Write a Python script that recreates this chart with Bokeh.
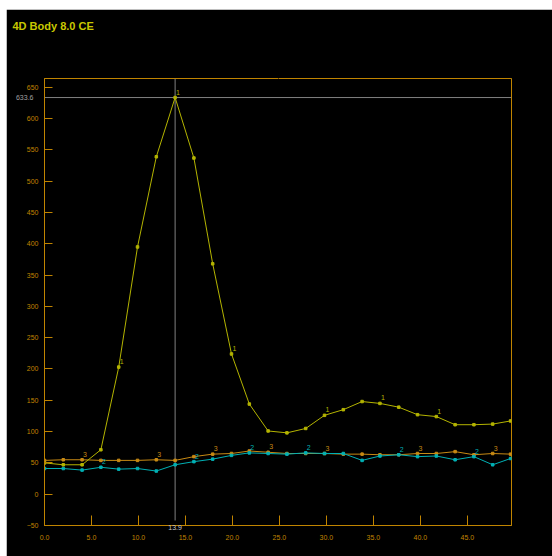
from bokeh.plotting import figure
from bokeh.models import Range1d, SingleIntervalTicker, NumeralTickFormatter, Title, LinearAxis, FixedTicker
from bokeh.embed import file_html
from bokeh.resources import INLINE
from bokeh.core.properties import value

title_text = "4D Body 8.0 CE"

x_vals = [0.0, 2.0, 4.0, 6.0, 7.9, 9.9, 11.9, 13.9, 15.9, 17.9, 19.9, 21.8, 23.8,
          25.8, 27.8, 29.8, 31.8, 33.8, 35.7, 37.7, 39.7, 41.7, 43.7, 45.7, 47.7, 49.6]
s1 = [50, 47, 47, 71, 203, 395, 539, 633.6, 537, 368, 224, 144, 101,
      98, 105, 126, 135, 148, 145, 139, 127, 124, 111, 111, 112, 117]
s2 = [41, 41, 38.5, 43, 40, 41, 37, 47, 52, 56, 62, 66, 65,
      64, 66, 65, 65, 54, 61, 63, 60, 61, 55, 60, 47, 57]
s3 = [54, 55, 55, 54, 54, 54, 55, 54, 60, 64, 65, 69, 67,
      65, 65, 65, 64, 64, 63, 63, 65, 65, 68, 63, 65, 64]

s1_label_idx = [4, 7, 10, 15, 18, 21]
s2_label_idx = [3, 8, 11, 14, 19, 23]
s3_label_idx = [2, 6, 9, 12, 15, 20, 24]
series_names = ["1", "2", "3"]

cursor_x = 13.9
cursor_y = 633.6

x_start, x_end = 0.0, 49.7
y_start, y_end = -50, 664

ORANGE = "#c08400"
YELLOW = "#b4b400"
CYAN = "#00b0b4"
ORANGE_S = "#c88a14"
GRAY = "#808080"
FONT = value("Liberation Sans")

p = figure(width=546, height=547, margin=(9, 0, 0, 6),
           x_range=Range1d(x_start, x_end), y_range=Range1d(y_start, y_end),
           output_backend="svg", toolbar_location=None, title=None,
           min_border_left=38, min_border_right=41, min_border_top=69, min_border_bottom=31,
           background_fill_color="black", border_fill_color="black",
           outline_line_color=ORANGE, outline_line_width=1)
p.grid.visible = False

xax = p.below[0]
yax = p.left[0]

for ax in (xax, yax):
    ax.axis_line_color = ORANGE
    ax.major_tick_line_color = ORANGE
    ax.minor_tick_line_color = None
    ax.major_tick_out = 0
    ax.major_label_text_color = ORANGE
    ax.major_label_text_font = "Liberation Sans"
    ax.major_label_text_font_size = "7px"

xax.ticker = SingleIntervalTicker(interval=5)
xax.formatter = NumeralTickFormatter(format="0.0")
xax.major_tick_in = 10
xax.major_label_standoff = 5

yax.ticker = SingleIntervalTicker(interval=50)
yax.major_tick_in = 8
yax.major_label_standoff = 2

# black-on-black spacer axis above the frame, so the title sits near the top edge
spacer = LinearAxis(ticker=FixedTicker(ticks=[x_end / 2]), axis_line_color=None,
                    major_tick_line_color="black", minor_tick_line_color=None,
                    major_tick_in=0, major_tick_out=31, major_label_standoff=0,
                    major_label_overrides={x_end / 2: " "},
                    major_label_text_color="black", major_label_text_font_size="1px")
p.add_layout(spacer, "above")

p.title = Title(text=title_text, align="left", vertical_align="top", offset=-32, standoff=20,
                text_font="Liberation Sans", text_font_size="11px", text_font_style="bold",
                text_color="#c8c800")

# cursor value readouts as extra axes
cy_axis = LinearAxis(ticker=FixedTicker(ticks=[cursor_y]), formatter=NumeralTickFormatter(format="0.0"),
                     axis_line_color=None, major_tick_line_color=None, minor_tick_line_color=None,
                     major_tick_in=0, major_tick_out=0, major_label_standoff=-10,
                     major_label_text_color="#a0a0a0", major_label_text_font="Liberation Sans",
                     major_label_text_font_size="7px")
p.add_layout(cy_axis, "left")
cx_axis = LinearAxis(ticker=FixedTicker(ticks=[cursor_x]), formatter=NumeralTickFormatter(format="0.0"),
                     axis_line_color=None, major_tick_line_color=None, minor_tick_line_color=None,
                     major_tick_in=0, major_tick_out=0, major_label_standoff=-18,
                     major_label_text_color="#c8c8c8", major_label_text_font="Liberation Sans",
                     major_label_text_font_size="7px")
p.add_layout(cx_axis, "below")

# crosshair
p.segment(x0=[cursor_x], y0=[-42], x1=[cursor_x], y1=[y_end], line_color=GRAY, line_width=1)
p.segment(x0=[x_start], y0=[cursor_y], x1=[x_end], y1=[cursor_y], line_color=GRAY, line_width=1)

for ys, col, idx, name in ((s3, ORANGE_S, s3_label_idx, series_names[2]),
                           (s2, CYAN, s2_label_idx, series_names[1]),
                           (s1, YELLOW, s1_label_idx, series_names[0])):
    p.line(x_vals, ys, line_color=col, line_width=1)
    p.scatter(x_vals, ys, marker="square", size=2.5, color=col)
    p.text(x=[x_vals[i] for i in idx], y=[ys[i] for i in idx], text=[name] * len(idx),
           text_color=col, text_font=FONT, text_font_size="7px",
           text_align="left", text_baseline="bottom", x_offset=1, y_offset=-3)

open("out.html", "w").write(file_html(p, INLINE))
